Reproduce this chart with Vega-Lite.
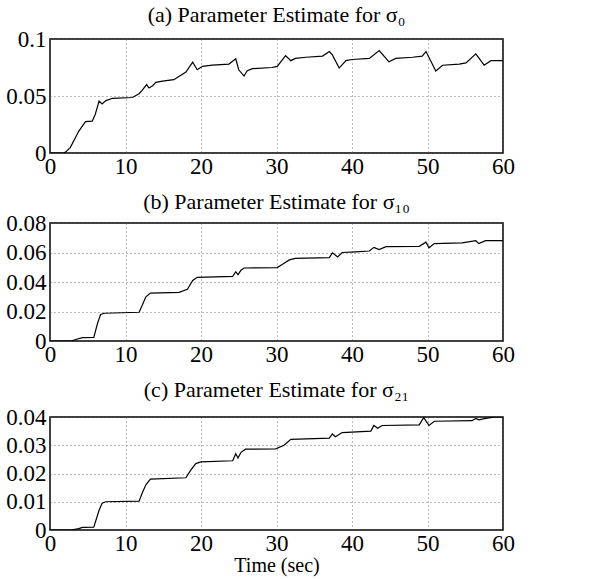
{
  "$schema": "https://vega.github.io/schema/vega-lite/v6.json",
  "background": "white",
  "padding": {"left": 5, "top": 3, "right": 5, "bottom": 1},
  "datasets": {
    "a": [
      {"t": 0, "v": 0}, {"t": 1.8, "v": 0}, {"t": 2.1, "v": 0.001}, {"t": 2.7, "v": 0.005},
      {"t": 3.8, "v": 0.019}, {"t": 4.7, "v": 0.0275}, {"t": 5.6, "v": 0.028}, {"t": 5.8, "v": 0.031},
      {"t": 6.0, "v": 0.034}, {"t": 6.5, "v": 0.0455}, {"t": 6.9, "v": 0.043}, {"t": 7.4, "v": 0.046},
      {"t": 8.3, "v": 0.048}, {"t": 10.9, "v": 0.0487}, {"t": 11.8, "v": 0.052}, {"t": 12.2, "v": 0.055},
      {"t": 12.8, "v": 0.06}, {"t": 13.1, "v": 0.057}, {"t": 13.6, "v": 0.059}, {"t": 14.0, "v": 0.062},
      {"t": 14.9, "v": 0.063}, {"t": 16.4, "v": 0.0643}, {"t": 18.0, "v": 0.071}, {"t": 18.9, "v": 0.0797},
      {"t": 19.5, "v": 0.073}, {"t": 20.2, "v": 0.076}, {"t": 21.5, "v": 0.077}, {"t": 23.7, "v": 0.078},
      {"t": 24.6, "v": 0.0826}, {"t": 25.0, "v": 0.073}, {"t": 25.7, "v": 0.0675}, {"t": 26.1, "v": 0.072},
      {"t": 26.8, "v": 0.074}, {"t": 29.4, "v": 0.075}, {"t": 30.1, "v": 0.076}, {"t": 31.2, "v": 0.0855},
      {"t": 31.9, "v": 0.081}, {"t": 32.5, "v": 0.083}, {"t": 33.9, "v": 0.084}, {"t": 36.1, "v": 0.085},
      {"t": 37.0, "v": 0.089}, {"t": 37.4, "v": 0.086}, {"t": 38.3, "v": 0.0745}, {"t": 39.2, "v": 0.081},
      {"t": 40.0, "v": 0.082}, {"t": 42.3, "v": 0.083}, {"t": 43.6, "v": 0.0899}, {"t": 44.5, "v": 0.083},
      {"t": 44.9, "v": 0.08}, {"t": 45.8, "v": 0.083}, {"t": 48.0, "v": 0.084}, {"t": 49.3, "v": 0.085},
      {"t": 49.8, "v": 0.089}, {"t": 51.1, "v": 0.0719}, {"t": 52.0, "v": 0.077}, {"t": 54.2, "v": 0.078},
      {"t": 55.1, "v": 0.079}, {"t": 56.4, "v": 0.087}, {"t": 57.5, "v": 0.077}, {"t": 58.4, "v": 0.081},
      {"t": 60, "v": 0.081}
    ],
    "b": [
      {"t": 0, "v": 0}, {"t": 2.8, "v": 0}, {"t": 3.4, "v": 0.001}, {"t": 4.3, "v": 0.0023},
      {"t": 5.8, "v": 0.0025}, {"t": 6.3, "v": 0.012}, {"t": 6.7, "v": 0.018}, {"t": 7.2, "v": 0.0188},
      {"t": 11.8, "v": 0.0195}, {"t": 12.2, "v": 0.024}, {"t": 12.7, "v": 0.03}, {"t": 13.3, "v": 0.0325},
      {"t": 17.1, "v": 0.033}, {"t": 18.2, "v": 0.035}, {"t": 18.9, "v": 0.041}, {"t": 19.5, "v": 0.0432},
      {"t": 24.2, "v": 0.0438}, {"t": 24.6, "v": 0.047}, {"t": 24.9, "v": 0.045}, {"t": 25.3, "v": 0.048},
      {"t": 25.7, "v": 0.0495}, {"t": 30.1, "v": 0.0498}, {"t": 30.8, "v": 0.052}, {"t": 31.7, "v": 0.055},
      {"t": 32.5, "v": 0.056}, {"t": 37.0, "v": 0.0565}, {"t": 37.4, "v": 0.0598}, {"t": 38.1, "v": 0.057},
      {"t": 38.7, "v": 0.06}, {"t": 40.5, "v": 0.0604}, {"t": 42.3, "v": 0.061}, {"t": 42.9, "v": 0.0635},
      {"t": 43.6, "v": 0.062}, {"t": 44.5, "v": 0.064}, {"t": 48.9, "v": 0.0642}, {"t": 49.8, "v": 0.067},
      {"t": 50.2, "v": 0.0632}, {"t": 50.9, "v": 0.066}, {"t": 54.6, "v": 0.0665}, {"t": 56.4, "v": 0.068},
      {"t": 56.8, "v": 0.066}, {"t": 57.7, "v": 0.068}, {"t": 60, "v": 0.068}
    ],
    "c": [
      {"t": 0, "v": 0}, {"t": 2.8, "v": 0}, {"t": 3.8, "v": 0.0005}, {"t": 4.3, "v": 0.0009},
      {"t": 5.8, "v": 0.001}, {"t": 6.5, "v": 0.007}, {"t": 6.9, "v": 0.0095}, {"t": 7.4, "v": 0.01},
      {"t": 11.8, "v": 0.0102}, {"t": 12.2, "v": 0.013}, {"t": 12.7, "v": 0.016}, {"t": 13.3, "v": 0.018},
      {"t": 18.0, "v": 0.0185}, {"t": 18.6, "v": 0.021}, {"t": 19.3, "v": 0.0235}, {"t": 20.0, "v": 0.0241},
      {"t": 24.2, "v": 0.0245}, {"t": 24.6, "v": 0.027}, {"t": 24.9, "v": 0.0255}, {"t": 25.3, "v": 0.0275},
      {"t": 25.9, "v": 0.0286}, {"t": 29.9, "v": 0.0287}, {"t": 31.0, "v": 0.03}, {"t": 31.9, "v": 0.0321},
      {"t": 37.0, "v": 0.0325}, {"t": 37.4, "v": 0.034}, {"t": 37.8, "v": 0.033}, {"t": 38.7, "v": 0.0345},
      {"t": 42.5, "v": 0.035}, {"t": 42.9, "v": 0.037}, {"t": 43.4, "v": 0.036}, {"t": 44.0, "v": 0.037},
      {"t": 48.9, "v": 0.0372}, {"t": 49.5, "v": 0.0398}, {"t": 50.2, "v": 0.037}, {"t": 50.9, "v": 0.0385},
      {"t": 55.9, "v": 0.0387}, {"t": 56.4, "v": 0.0395}, {"t": 56.8, "v": 0.039}, {"t": 57.7, "v": 0.0395},
      {"t": 59.0, "v": 0.04}, {"t": 60, "v": 0.04}
    ]
  },
  "spacing": 11,
  "vconcat": [
    {
      "width": 453, "height": 114,
      "title": {"text": "(a) Parameter Estimate for σ₀", "offset": 1},
      "data": {"name": "a"},
      "mark": {"type": "line", "color": "black", "strokeWidth": 1.2, "clip": true},
      "encoding": {
        "x": {"field": "t", "type": "quantitative", "scale": {"domain": [0, 60], "nice": false}, "axis": {"values": [0, 10, 20, 30, 40, 50, 60], "title": null}},
        "y": {"field": "v", "type": "quantitative", "scale": {"domain": [0, 0.1], "nice": false}, "axis": {"values": [0, 0.05, 0.1], "format": "~g", "title": null}}
      }
    },
    {
      "width": 453, "height": 118,
      "title": {"text": "(b) Parameter Estimate for σ₁₀", "offset": -2},
      "data": {"name": "b"},
      "mark": {"type": "line", "color": "black", "strokeWidth": 1.2, "clip": true},
      "encoding": {
        "x": {"field": "t", "type": "quantitative", "scale": {"domain": [0, 60], "nice": false}, "axis": {"values": [0, 10, 20, 30, 40, 50, 60], "title": null}},
        "y": {"field": "v", "type": "quantitative", "scale": {"domain": [0, 0.08], "nice": false}, "axis": {"values": [0, 0.02, 0.04, 0.06, 0.08], "format": "~g", "title": null}}
      }
    },
    {
      "width": 453, "height": 113,
      "title": {"text": "(c) Parameter Estimate for σ₂₁", "offset": 4},
      "data": {"name": "c"},
      "mark": {"type": "line", "color": "black", "strokeWidth": 1.2, "clip": true},
      "encoding": {
        "x": {"field": "t", "type": "quantitative", "scale": {"domain": [0, 60], "nice": false}, "axis": {"values": [0, 10, 20, 30, 40, 50, 60], "title": "Time (sec)", "titlePadding": 0}},
        "y": {"field": "v", "type": "quantitative", "scale": {"domain": [0, 0.04], "nice": false}, "axis": {"values": [0, 0.01, 0.02, 0.03, 0.04], "format": "~g", "title": null}}
      }
    }
  ],
  "config": {
    "font": "Liberation Serif",
    "view": {"stroke": "black", "strokeWidth": 1.5},
    "title": {"font": "Liberation Serif", "fontSize": 22, "fontWeight": "normal", "color": "black"},
    "axis": {
      "labelFont": "Liberation Serif", "labelFontSize": 23, "labelColor": "black",
      "titleFont": "Liberation Serif", "titleFontSize": 20, "titleFontWeight": "normal", "titleColor": "black", "titlePadding": 0,
      "domain": false, "ticks": false, "labelPadding": 2,
      "grid": true, "gridColor": "#555555", "gridDash": [1, 3], "gridWidth": 0.8,
      "labelFlush": false
    },
    "axisY": {"labelPadding": 4}
  }
}
